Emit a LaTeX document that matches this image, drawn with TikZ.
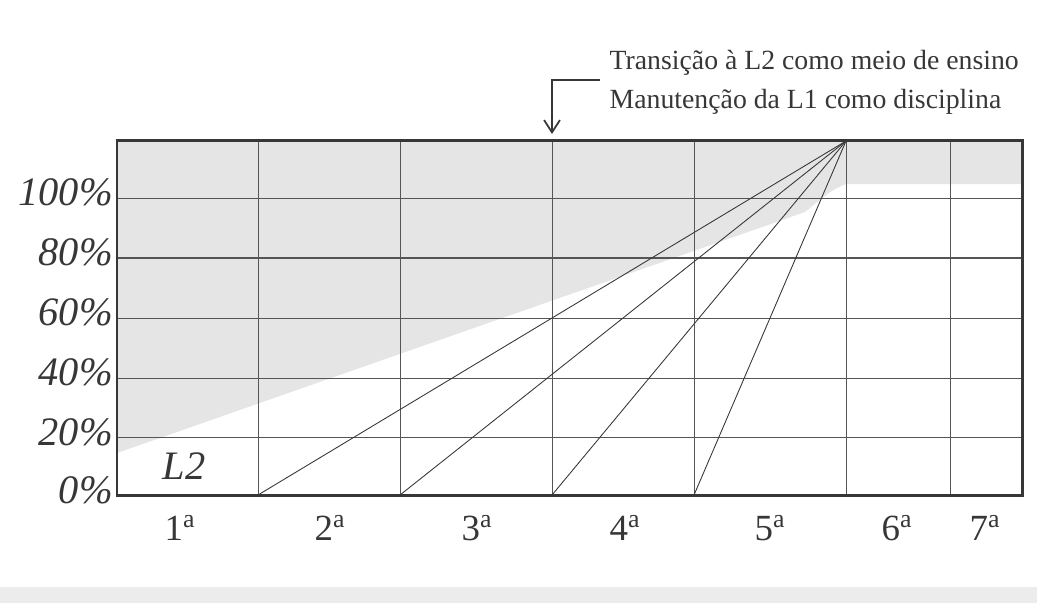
\documentclass[tikz,border=0pt]{standalone}
\usepackage{fontspec}
\setmainfont{Liberation Serif}
\definecolor{areagray}{RGB}{229,229,229}
\definecolor{bandgray}{RGB}{236,236,236}
\definecolor{ink}{RGB}{55,55,55}
\usetikzlibrary{arrows.meta}

\begin{document}
\begin{tikzpicture}[
    x=0.02cm, y=-0.02cm,
    grid/.style={draw=ink!85, line width=0.5pt},
    frame/.style={draw=ink, line width=1.7pt},
    ray/.style={draw=ink, line width=0.5pt},
    pointer/.style={draw=ink, line width=1pt, -{Straight Barb[length=7pt,width=9pt]}},
    pct/.style={anchor=east, font=\fontsize{23}{26}\selectfont\itshape, text=ink},
    grade/.style={font=\fontsize{21}{24}\selectfont, text=ink},
    note/.style={align=left, anchor=north east, font=\fontsize{15.8}{22}\selectfont, text=ink}
]
    \useasboundingbox (0,0) rectangle (1037,603);

    % Shaded areas
    \fill[bandgray] (0,587) rectangle (1037,603);
    \fill[areagray] (117,140) -- (1022,140) -- (1022,184) -- (846,184)
        .. controls (832,190) .. (805,212) -- (117,453) -- cycle;

    % Grid
    \foreach \y in {198,318,378,437}
        \draw[grid] (117,\y) -- (1022,\y);
    \draw[grid, line width=1pt] (117,258) -- (1022,258);
    \foreach \x in {258,400,552,694,846,950}
        \draw[grid] (\x,140) -- (\x,495);
    \draw[frame] (117,140) rectangle (1022,495);

    % Rays
    \coordinate (apex) at (846,141);
    \foreach \x in {258,400,552,694} {
        \coordinate (foot\x) at (\x,495);
        \draw[ray] (apex) -- (foot\x);
    }

    % Axis labels
    \foreach \y/\p in {192/100,252/80,312/60,372/40,432/20,490/0}
        \node[pct] (pct\p) at (119,\y) {\p\%};
    \foreach \x/\g in {180/1,330/2,477/3,625/4,770/5,897/6,985/7}
        \node[grade] (grade\g) at (\x,528) {\g\textsuperscript{a}};
    \node[pct, anchor=center] (lang) at (184,466) {L2};

    % Transition note
    \coordinate (tail) at (600,80);
    \coordinate (bend) at (552,80);
    \coordinate (tip) at (552,134);
    \draw[pointer] (tail) -- (bend) -- (tip);
    \node[note] (note) at (1025,44) {Transição à L2 como meio de ensino\\
        Manutenção da L1 como disciplina};
\end{tikzpicture}
\end{document}
